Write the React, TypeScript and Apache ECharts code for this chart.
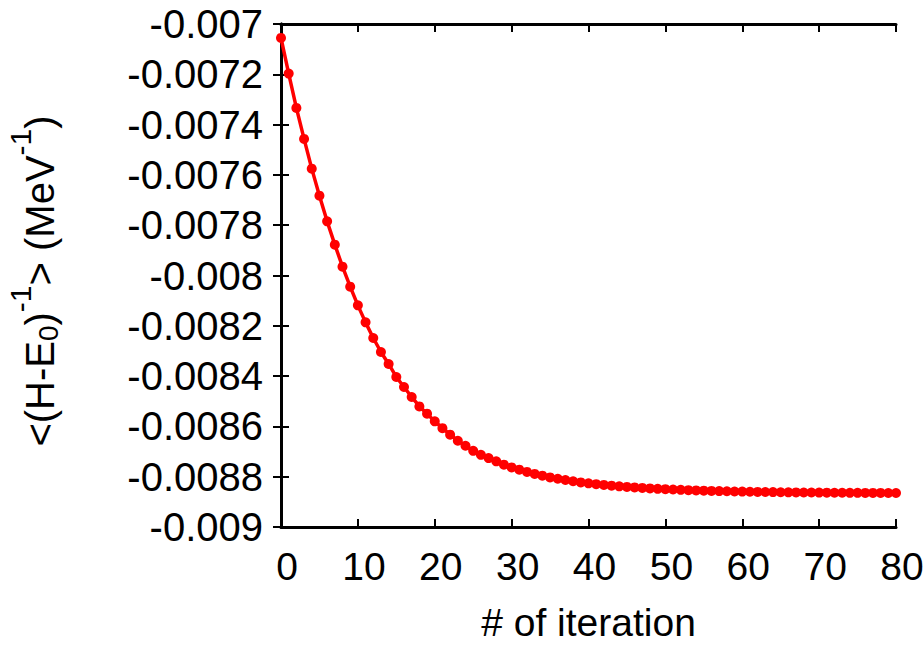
import React, { useEffect, useRef } from "react";
import * as echarts from "echarts";

const iterations: number[] = Array.from({ length: 81 }, (_, i) => i);

const expectation: number[] = [
  -0.0070553, -0.0071973, -0.0073337, -0.007457, -0.0075751, -0.0076825, -0.0077847, -0.0078773,
  -0.0079648, -0.0080444, -0.0081187, -0.0081863, -0.0082484, -0.0083041, -0.0083518, -0.0084035,
  -0.0084433, -0.008483, -0.0085204, -0.0085494, -0.00858, -0.008607, -0.008633, -0.008657,
  -0.008677, -0.008697, -0.008713, -0.008726, -0.008739, -0.008752, -0.008763, -0.008772,
  -0.008781, -0.008789, -0.008796, -0.008803, -0.008808, -0.008813, -0.008818, -0.0088226,
  -0.0088264, -0.0088297, -0.0088328, -0.0088356, -0.0088382, -0.0088406, -0.0088427, -0.0088447,
  -0.0088465, -0.0088482, -0.0088497, -0.008851, -0.0088523, -0.0088535, -0.0088546, -0.0088555,
  -0.0088564, -0.0088572, -0.008858, -0.0088587, -0.0088593, -0.0088599, -0.0088604, -0.0088609,
  -0.0088613, -0.0088617, -0.0088621, -0.0088624, -0.0088627, -0.008863, -0.0088633, -0.0088635,
  -0.0088637, -0.0088639, -0.0088641, -0.0088643, -0.0088644, -0.0088645, -0.0088646, -0.0088647,
  -0.0088648,
];

const xMin = 0;
const xMax = 80;
const xStep = 10;
const yMin = -0.009;
const yMax = -0.007;
const yStep = 0.0002;

const xTitle = "# of iteration";
const yTitle = "<(H-E{sub|0}){sup|-1}> (MeV{sup|-1})";

const FONT = "'Liberation Sans', Arial, Helvetica, sans-serif";

export default function App() {
  const ref = useRef<HTMLDivElement>(null);

  useEffect(() => {
    if (!ref.current) return;
    const chart = echarts.init(ref.current, undefined, { renderer: "svg" });
    const axisLine = { show: true, lineStyle: { color: "#000", width: 3 } };
    const axisTick = { show: true, inside: true, length: 8, lineStyle: { color: "#000", width: 2 } };
    const yFmt = (v: number) => parseFloat(v.toFixed(5)).toString();

    chart.setOption({
      animation: false,
      backgroundColor: "#fff",
      grid: {
        left: 281,
        right: 28,
        top: 24,
        bottom: 118,
        containLabel: false,
        outerBoundsMode: "none",
      },
      xAxis: [
        {
          type: "value",
          min: xMin,
          max: xMax,
          interval: xStep,
          position: "bottom",
          axisLine,
          axisTick,
          splitLine: { show: false },
          axisLabel: {
            fontSize: 39,
            fontFamily: FONT,
            color: "#000",
            margin: 20,
            padding: [0, 0, 0, 12],
          },
          name: xTitle,
          nameLocation: "middle",
          nameGap: 78,
          nameTextStyle: { fontSize: 39, fontFamily: FONT, color: "#000", lineHeight: 34 },
        },
        {
          type: "value",
          min: xMin,
          max: xMax,
          interval: xStep,
          position: "top",
          axisLine,
          axisTick,
          splitLine: { show: false },
          axisLabel: { show: false },
        },
      ],
      yAxis: [
        {
          type: "value",
          min: yMin,
          max: yMax,
          interval: yStep,
          position: "left",
          axisLine,
          axisTick,
          splitLine: { show: false },
          axisLabel: { fontSize: 40, fontFamily: FONT, color: "#000", margin: 18, formatter: yFmt },
          name: yTitle,
          nameLocation: "middle",
          nameRotate: 90,
          nameGap: 206,
          nameTextStyle: {
            fontSize: 40,
            fontFamily: FONT,
            color: "#000",
            lineHeight: 70,
            padding: [0, 11, 0, 0],
            rich: {
              sup: { fontSize: 30, fontFamily: FONT, color: "#000", verticalAlign: "top" },
              sub: { fontSize: 28, fontFamily: FONT, color: "#000", verticalAlign: "bottom", height: 54 },
            },
          },
        },
        {
          type: "value",
          min: yMin,
          max: yMax,
          interval: yStep,
          position: "right",
          axisLine,
          axisTick,
          splitLine: { show: false },
          axisLabel: { show: false },
        },
      ],
      series: [
        {
          type: "line",
          data: iterations.map((x, i) => [x, expectation[i]]),
          xAxisIndex: 0,
          yAxisIndex: 0,
          symbol: "circle",
          symbolSize: 10,
          showSymbol: true,
          clip: false,
          itemStyle: { color: "#ff0000" },
          lineStyle: { color: "#ff0000", width: 3.5 },
          z: 1,
        },
      ],
    });
    return () => chart.dispose();
  }, []);

  return (
    <div
      ref={ref}
      style={{ position: "fixed", left: 0, top: 0, width: 924, height: 645, background: "#fff" }}
    />
  );
}
